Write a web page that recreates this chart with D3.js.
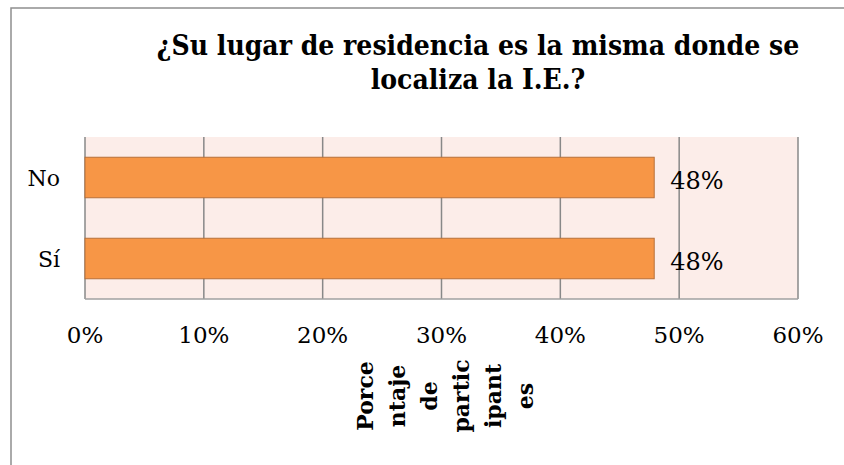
<!DOCTYPE html>
<html>
<head>
<meta charset="utf-8">
<script src="https://cdn.jsdelivr.net/npm/d3@7"></script>
<style>
  body { margin: 0; background: #fff; }
  svg { display: block; font-family: "DejaVu Serif", serif; }
  .title { font-family: "DejaVu Serif Condensed", "DejaVu Serif", serif; font-stretch: condensed; }
</style>
</head>
<body>
<svg id="chart" width="844" height="465"></svg>
<script>
// Data
const categories = ["No", "Sí"];
const values = [0.479, 0.479];
const xTicks = [0, 0.1, 0.2, 0.3, 0.4, 0.5, 0.6];
const titleLines = ["¿Su lugar de residencia es la misma donde se", "localiza la I.E.?"];
const axisTitleLines = ["Porce", "ntaje", "de", "partic", "ipant", "es"];

const svg = d3.select("#chart");
const plot = { left: 85, right: 798, top: 137, bottom: 299 };

// outer chart frame (runs off the bottom/right of the picture)
svg.append("rect")
    .attr("x", 11).attr("y", 8)
    .attr("width", 900).attr("height", 600)
    .attr("fill", "none")
    .attr("stroke", "#8e8e8e")
    .attr("stroke-width", 1.5);

const x = d3.scaleLinear().domain([0, 0.6]).range([plot.left, plot.right]);
const y = d3.scaleBand().domain(categories).range([plot.top, plot.bottom])
    .paddingInner(0.5).paddingOuter(0.25);

// plot background
svg.append("rect")
    .attr("x", plot.left).attr("y", plot.top)
    .attr("width", plot.right - plot.left).attr("height", plot.bottom - plot.top)
    .attr("fill", "#fcede9");

// vertical grid lines
svg.append("g")
    .selectAll("line")
    .data(xTicks)
    .enter()
    .append("line")
    .attr("x1", d => x(d)).attr("x2", d => x(d))
    .attr("y1", plot.top).attr("y2", plot.bottom)
    .attr("stroke", "#888")
    .attr("stroke-width", 1.5);

// bottom axis line
svg.append("line")
    .attr("x1", plot.left).attr("x2", plot.right)
    .attr("y1", plot.bottom).attr("y2", plot.bottom)
    .attr("stroke", "#a0a0a0")
    .attr("stroke-width", 1.5);

// bars
svg.append("g")
    .selectAll("rect")
    .data(categories)
    .enter()
    .append("rect")
    .attr("x", x(0))
    .attr("y", d => y(d))
    .attr("width", (d, i) => x(values[i]) - x(0))
    .attr("height", y.bandwidth())
    .attr("fill", "#f79646")
    .attr("stroke", "#b8703a")
    .attr("stroke-width", 1);

// data labels
const pct = d3.format(".0%");
svg.append("g")
    .selectAll("text")
    .data(categories)
    .enter()
    .append("text")
    .attr("x", (d, i) => x(values[i]) + 16)
    .attr("y", d => y(d) + y.bandwidth() / 2 + 11)
    .attr("font-size", 24)
    .attr("fill", "#000")
    .text((d, i) => pct(values[i]));

// category labels
svg.append("g")
    .selectAll("text")
    .data(categories)
    .enter()
    .append("text")
    .attr("x", 60)
    .attr("y", d => y(d) + y.bandwidth() / 2 + 8)
    .attr("text-anchor", "end")
    .attr("font-size", 22)
    .text(d => d);

// x tick labels
svg.append("g")
    .selectAll("text")
    .data(xTicks)
    .enter()
    .append("text")
    .attr("x", d => x(d))
    .attr("y", 343)
    .attr("text-anchor", "middle")
    .attr("font-size", 23)
    .text(d => pct(d));

// title
svg.append("g")
    .selectAll("text")
    .data(titleLines)
    .enter()
    .append("text")
    .attr("class", "title")
    .attr("x", 478)
    .attr("y", (d, i) => 55 + i * 34)
    .attr("text-anchor", "middle")
    .attr("font-size", 28)
    .attr("font-weight", "bold")
    .text(d => d);

// axis title, wrapped and rotated
svg.append("g")
    .selectAll("text")
    .data(axisTitleLines)
    .enter()
    .append("text")
    .attr("transform", (d, i) => `translate(${373 + i * 32},396) rotate(-90)`)
    .attr("text-anchor", "middle")
    .attr("font-size", 22)
    .attr("font-weight", "bold")
    .text(d => d);
</script>
</body>
</html>
